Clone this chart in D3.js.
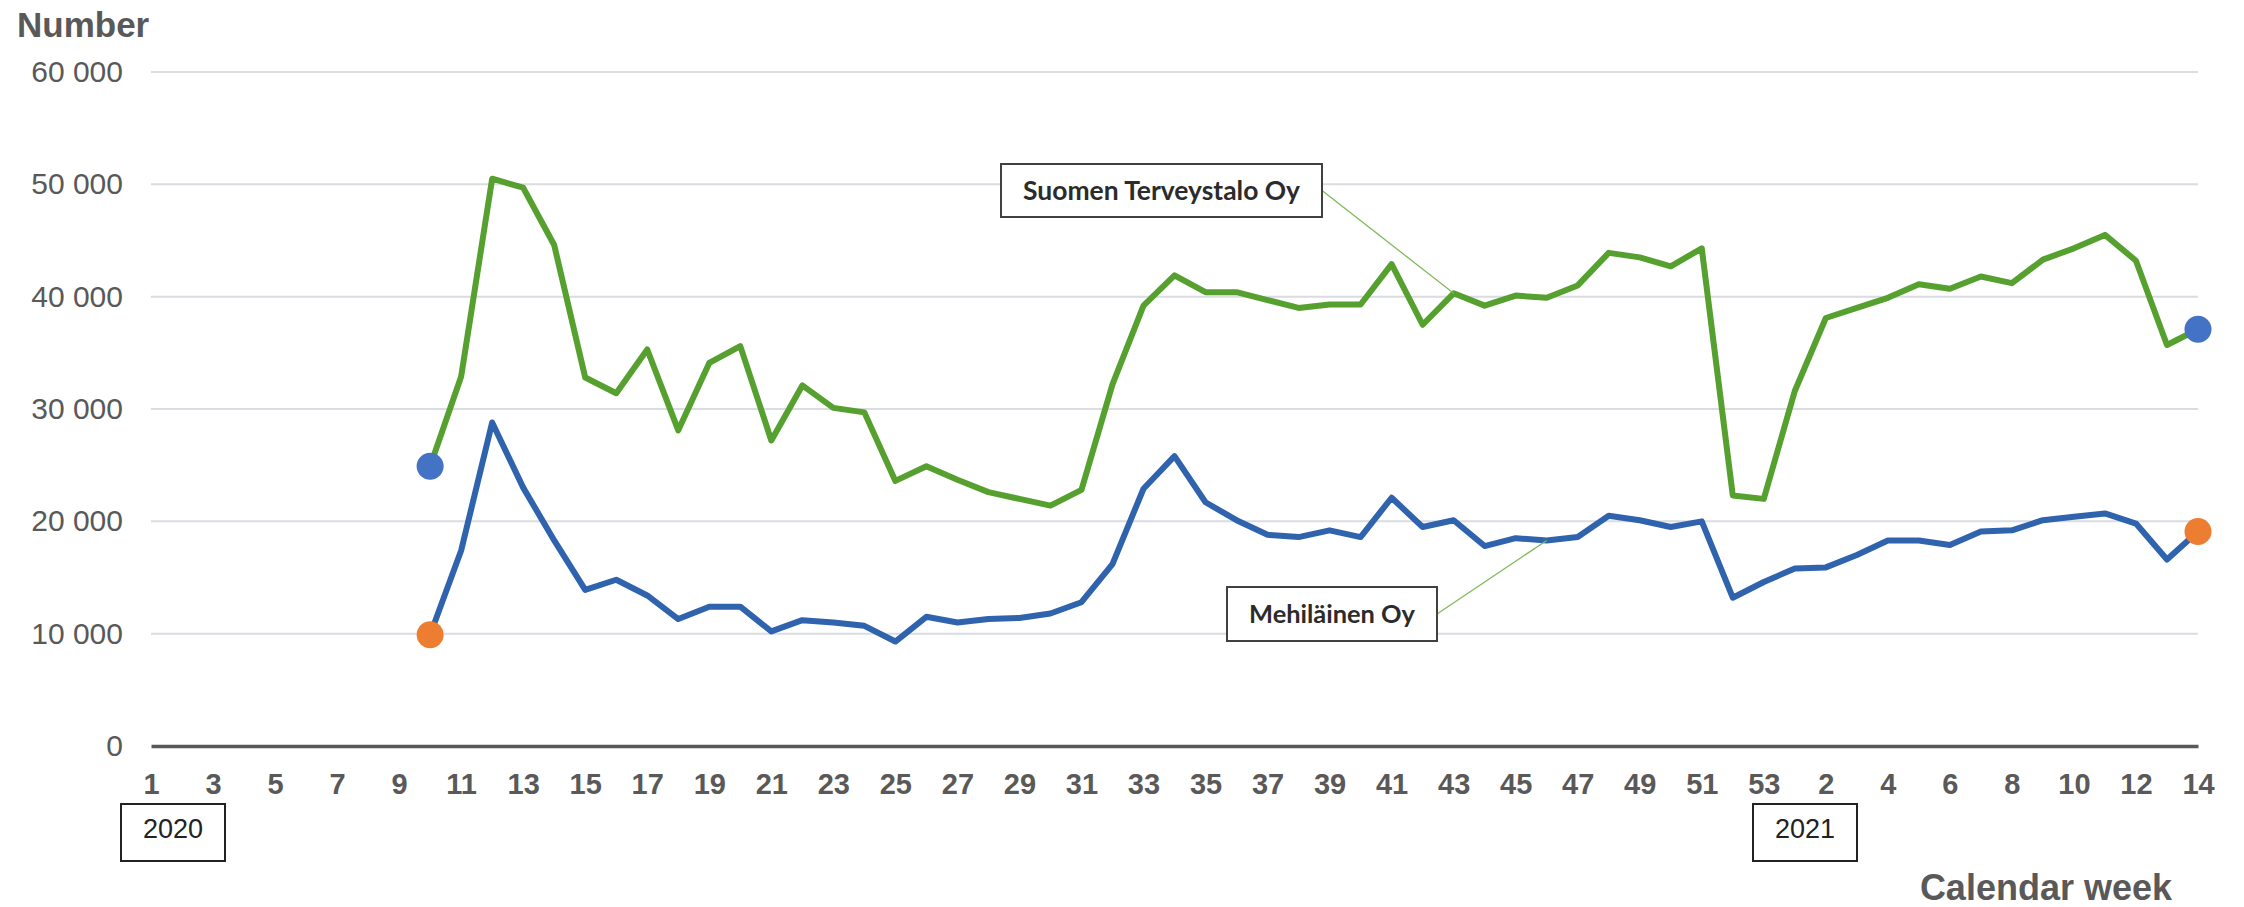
<!DOCTYPE html>
<html>
<head>
<meta charset="utf-8">
<script src="https://cdn.jsdelivr.net/npm/d3@7"></script>
<style>
  body { margin: 0; background: #fff; }
  .tick text { font-family: "Liberation Sans", Arial, sans-serif; fill: #595959; }
</style>
</head>
<body>
<div class="chart"></div>
<script>
// weeks 2020 (1-53) followed by weeks 2021 (1-14)
var weeks2020 = d3.range(1, 54)
var weeks2021 = d3.range(1, 15)
var weekLabels = weeks2020.concat(weeks2021)

// values start at week 10 / 2020, earlier weeks have no data
var terveystalo = [null, null, null, null, null, null, null, null, null,
  24900, 32900, 50500, 49700, 44600, 32800, 31400, 35300, 28100, 34100,
  35600, 27200, 32100, 30100, 29700, 23600, 24900, 23700, 22600, 22000,
  21400, 22800, 32200, 39200, 41900, 40400, 40400, 39700, 39000, 39300,
  39300, 42900, 37500, 40300, 39200, 40100, 39900, 41000, 43900, 43500,
  42700, 44300, 22300, 22000, 31600, 38100, 39000, 39900, 41100, 40700,
  41800, 41200, 43300, 44300, 45500, 43200, 35700, 37100]

var mehilainen = [null, null, null, null, null, null, null, null, null,
  9900, 17400, 28800, 23000, 18300, 13900, 14800, 13400, 11300, 12400,
  12400, 10200, 11200, 11000, 10700, 9300, 11500, 11000, 11300, 11400,
  11800, 12800, 16200, 22900, 25800, 21700, 20100, 18800, 18600, 19200,
  18600, 22100, 19500, 20100, 17800, 18500, 18300, 18600, 20500, 20100,
  19500, 20000, 13200, 14600, 15800, 15900, 17000, 18300, 18300, 17900,
  19100, 19200, 20100, 20400, 20700, 19800, 16600, 19100]

var yTicks = [0, 10000, 20000, 30000, 40000, 50000, 60000]

// set the dimensions and margins of the graph
var margin = {top: 72, right: 46, bottom: 161, left: 151},
    width = 2244 - margin.left - margin.right,
    height = 907 - margin.top - margin.bottom;

var svg = d3.select(".chart")
  .append("svg")
    .attr("width", 2244)
    .attr("height", 907)
  .append("g")
    .attr("transform", "translate(" + margin.left + "," + margin.top + ")");

var x = d3.scaleLinear()
  .domain([0, weekLabels.length - 1])
  .range([0, width]);

var y = d3.scaleLinear()
  .domain([0, 60000])
  .range([height, 0]);

// gridlines
svg.append("g")
  .selectAll("line")
  .data(yTicks.slice(1))
  .enter().append("line")
    .attr("x1", 0)
    .attr("x2", width)
    .attr("y1", function(d) { return y(d); })
    .attr("y2", function(d) { return y(d); })
    .attr("stroke", "#d9dce1")
    .attr("stroke-width", 2);

// Y axis labels
var yAxis = svg.append("g")
  .call(d3.axisLeft(y)
    .tickValues(yTicks)
    .tickSize(0)
    .tickPadding(28)
    .tickFormat(function(d) { return d3.format(",")(d).replace(",", " "); }));
yAxis.select(".domain").remove();
yAxis.selectAll("text").style("font-size", "30px");

// X axis, a label on every second week
var xAxis = svg.append("g")
  .attr("transform", "translate(0," + height + ")")
  .call(d3.axisBottom(x)
    .tickValues(d3.range(0, weekLabels.length, 2))
    .tickSize(0)
    .tickPadding(27)
    .tickFormat(function(i) { return weekLabels[i]; }));
xAxis.select(".domain")
  .attr("stroke", "#595959")
  .attr("stroke-width", 3.5);
xAxis.selectAll("text")
  .style("font-size", "29px")
  .style("font-weight", "bold");

// lines
var line = d3.line()
  .defined(function(d) { return d != null; })
  .x(function(d, i) { return x(i); })
  .y(function(d) { return y(d); });

svg.append("path")
  .datum(terveystalo)
  .attr("fill", "none")
  .attr("stroke", "#55a02e")
  .attr("stroke-width", 6)
  .attr("stroke-linejoin", "round")
  .attr("d", line);

svg.append("path")
  .datum(mehilainen)
  .attr("fill", "none")
  .attr("stroke", "#2f63ae")
  .attr("stroke-width", 6)
  .attr("stroke-linejoin", "round")
  .attr("d", line);

// first and last point markers
var first = 9, last = weekLabels.length - 1;
var markers = [
  {i: first, v: terveystalo[first], c: "#4472c4"},
  {i: last, v: terveystalo[last], c: "#4472c4"},
  {i: first, v: mehilainen[first], c: "#ed7d31"},
  {i: last, v: mehilainen[last], c: "#ed7d31"}
];
svg.append("g")
  .selectAll("circle")
  .data(markers)
  .enter().append("circle")
    .attr("cx", function(d) { return x(d.i); })
    .attr("cy", function(d) { return y(d.v); })
    .attr("r", 13.5)
    .attr("fill", function(d) { return d.c; });

// series labels with leader lines
var labels = [
  {text: "Suomen Terveystalo Oy", x0: 1001 - margin.left, y0: 164 - margin.top, w: 321, h: 53, tw: 277, i: 42, v: terveystalo[42]},
  {text: "Mehiläinen Oy", x0: 1227 - margin.left, y0: 587 - margin.top, w: 210, h: 54, tw: 166, i: 45, v: mehilainen[45]}
];
labels.forEach(function(l) {
  svg.append("line")
    .attr("x1", l.x0 + l.w)
    .attr("y1", l.y0 + l.h / 2)
    .attr("x2", x(l.i))
    .attr("y2", y(l.v))
    .attr("stroke", "#7fba5a")
    .attr("stroke-width", 1.3);
  svg.append("rect")
    .attr("x", l.x0)
    .attr("y", l.y0)
    .attr("width", l.w)
    .attr("height", l.h)
    .attr("fill", "#fff")
    .attr("stroke", "#404040")
    .attr("stroke-width", 2);
  var t = svg.append("text")
    .attr("x", l.x0 + l.w / 2)
    .attr("y", l.y0 + l.h / 2 + 9)
    .attr("text-anchor", "middle")
    .style("font-family", "Lato, 'Open Sans', sans-serif")
    .style("font-weight", "bold")
    .style("font-size", "25px")
    .style("fill", "#2b2b2b")
    .text(l.text);
  // scale the font so the label is as wide as in the original
  var size = 25 * l.tw / t.node().getComputedTextLength();
  t.style("font-size", Math.min(size, 27) + "px");
});

// year boxes under the axis
var years = [{label: "2020", x0: 121}, {label: "2021", x0: 1753}];
years.forEach(function(d) {
  svg.append("rect")
    .attr("x", d.x0 - margin.left)
    .attr("y", 804 - margin.top)
    .attr("width", 104)
    .attr("height", 57)
    .attr("fill", "none")
    .attr("stroke", "#222")
    .attr("stroke-width", 2);
  svg.append("text")
    .attr("x", d.x0 - margin.left + 52)
    .attr("y", 838 - margin.top)
    .attr("text-anchor", "middle")
    .style("font-family", "'Liberation Sans', Arial, sans-serif")
    .style("font-size", "27px")
    .style("fill", "#222")
    .text(d.label);
});

// Create axes labels
svg.append("text")
  .attr("x", 17 - margin.left)
  .attr("y", 37 - margin.top)
  .style("font-family", "'Liberation Sans', Arial, sans-serif")
  .style("font-weight", "bold")
  .style("font-size", "35px")
  .style("fill", "#595959")
  .text("Number");

svg.append("text")
  .attr("x", 2172 - margin.left)
  .attr("y", 900 - margin.top)
  .attr("text-anchor", "end")
  .style("font-family", "'Liberation Sans', Arial, sans-serif")
  .style("font-weight", "bold")
  .style("font-size", "36px")
  .style("fill", "#595959")
  .text("Calendar week");
</script>
</body>
</html>
